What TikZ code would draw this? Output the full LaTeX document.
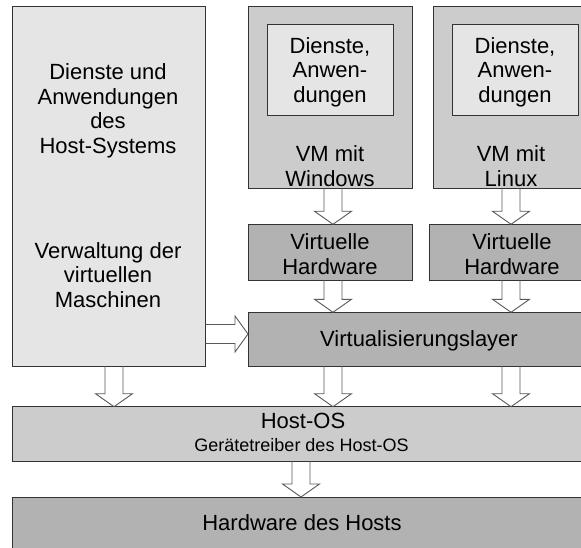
\documentclass[tikz,border=0pt]{standalone}
\usepackage{fontspec}
\setmainfont{Liberation Sans}
\usetikzlibrary{fit,calc}
\definecolor{lite}{gray}{0.9}
\definecolor{mid}{gray}{0.8}
\definecolor{dark}{gray}{0.7}
\definecolor{edge}{gray}{0.2}
\definecolor{arrowedge}{gray}{0.35}
\tikzset{
  blk/.style={draw=edge, line width=1pt, inner sep=0pt, outer sep=0pt},
  lbl/.style={font=\fontsize{22}{24.5}\selectfont, align=center, text=black, inner sep=0pt},
  smalllbl/.style={font=\fontsize{18}{20}\selectfont, text=black, inner sep=0pt},
  blockarrow/.style={draw=arrowedge, line width=0.9pt, line join=miter},
}
\newcommand\downarr[3]{% #1 x-coordinate name, #2 source node, #3 target node
  \draw[blockarrow] ($(#2.south -| #1)+(-9,0)$) -- ($(#3.north -| #1)+(-9,-13)$)
    -- ($(#3.north -| #1)+(-18.5,-13)$) -- (#3.north -| #1)
    -- ($(#3.north -| #1)+(18.5,-13)$) -- ($(#3.north -| #1)+(9,-13)$)
    -- ($(#2.south -| #1)+(9,0)$);
}
\begin{document}
\begin{tikzpicture}[x=1pt,y=-1pt]
\useasboundingbox (0,0) rectangle (581,548);
\fill[white] (0,0) rectangle (581,548);
\clip (0,0) rectangle (581,548);
% boxes
\node[blk, fill=lite, fit={(12.7,7) (205.7,366)}] (host) {};
\node[blk, fill=mid, fit={(248,7) (412,188.3)}] (vmw) {};
\node[blk, fill=lite, fit={(267,25) (393,115.7)}] (vmwi) {};
\node[blk, fill=mid, fit={(433,7) (597,188.3)}] (vml) {};
\node[blk, fill=lite, fit={(452,25) (578,115.7)}] (vmli) {};
\node[blk, fill=dark, fit={(248,224.3) (412,280)}] (vhw) {};
\node[blk, fill=dark, fit={(429.3,224.3) (593,280)}] (vhl) {};
\node[blk, fill=dark, fit={(248,312.3) (600,366)}] (virt) {};
\node[blk, fill=mid, fit={(12.7,406.7) (600,461)}] (hos) {};
\node[blk, fill=dark, fit={(12.7,497) (600,570)}] (hw) {};
% labels
\node[lbl] (t1) at (108,111) {Dienste und\\Anwendungen\\des\\Host-Systems};
\node[lbl] (t2) at (108,275) {Verwaltung der\\virtuellen\\Maschinen};
\node[lbl] (t3) at (330,72) {Dienste,\\Anwen-\\dungen};
\node[lbl] (t4) at (330,166) {VM mit\\Windows};
\node[lbl] (t5) at (515,72) {Dienste,\\Anwen-\\dungen};
\node[lbl] (t6) at (511,166) {VM mit\\Linux};
\node[lbl] (t7) at (330,254) {Virtuelle\\Hardware};
\node[lbl] (t8) at (512,254) {Virtuelle\\Hardware};
\node[lbl] (t9) at (419,341) {Virtualisierungslayer};
\node[lbl] (t10) at (303,421) {Host-OS};
\node[smalllbl] (t11) at (301.5,445) {Gerätetreiber des Host-OS};
\node[lbl] (t12) at (302,523) {Hardware des Hosts};
% arrow positions
\coordinate (xa) at (333,0);
\coordinate (xb) at (511,0);
\coordinate (xc) at (114,0);
\coordinate (xd) at (301,0);
\coordinate (hy) at (0,334);
\downarr{xa}{vmw}{vhw}
\downarr{xb}{vml}{vhl}
\downarr{xa}{vhw}{virt}
\downarr{xb}{vhl}{virt}
\downarr{xc}{host}{hos}
\downarr{xa}{virt}{hos}
\downarr{xb}{virt}{hos}
\downarr{xd}{hos}{hw}
\draw[blockarrow] ($(host.east |- hy)+(0,-9.5)$) -- ($(virt.west |- hy)+(-13,-9.5)$)
  -- ($(virt.west |- hy)+(-13,-18)$) -- (virt.west |- hy)
  -- ($(virt.west |- hy)+(-13,18)$) -- ($(virt.west |- hy)+(-13,9.5)$)
  -- ($(host.east |- hy)+(0,9.5)$);
\end{tikzpicture}
\end{document}
